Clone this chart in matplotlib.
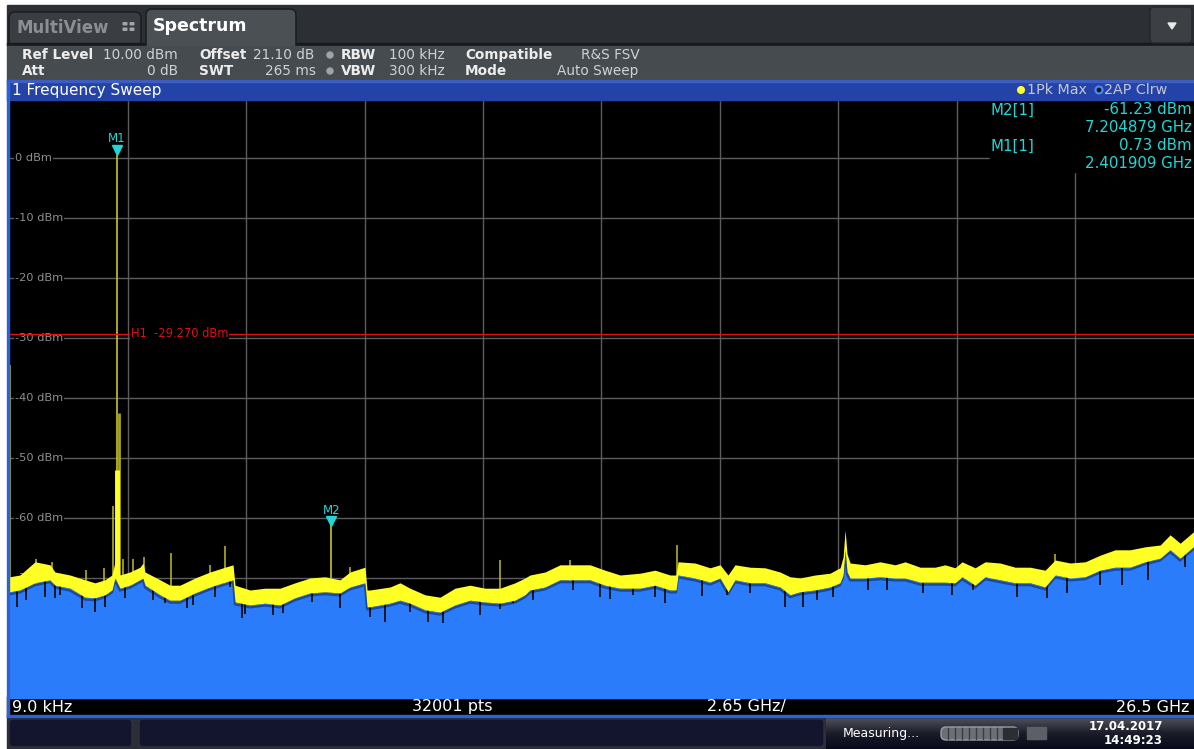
import numpy as np
import matplotlib.pyplot as plt
from matplotlib.patches import Rectangle, FancyBboxPatch, Circle, Polygon
from matplotlib.colors import LinearSegmentedColormap
from matplotlib.transforms import offset_copy

# Sweep settings
f_start = 0.000009   # GHz
f_stop = 26.5        # GHz
ref_level = 10.0     # dBm
bottom_level = -90.0 # dBm
grid_levels = [0, -10, -20, -30, -40, -50, -60, -70, -80]

# Noise band of trace 1 (Pk Max): frequency in GHz, upper / lower edge in dBm
band_freq = [0.000009, 0.235, 0.571, 0.906, 1.018, 1.354, 1.690, 1.914, 2.137, 2.294,
             2.361, 2.473, 2.697, 2.921, 2.988, 3.033, 3.369, 3.592, 3.816, 4.152,
             4.488, 4.824, 5.003, 5.047, 5.383, 5.719, 6.055, 6.391, 6.726, 7.062,
             7.398, 7.621, 7.957, 8.002, 8.069, 8.517, 8.740, 8.964, 9.300, 9.636,
             9.971, 10.307, 10.643, 10.979, 11.314, 11.538, 11.650, 11.986, 12.322, 12.658,
             12.993, 13.329, 13.665, 14.113, 14.448, 14.784, 14.918, 14.963, 15.343, 15.679,
             15.903, 16.082, 16.239, 16.575, 16.910, 17.246, 17.470, 17.694, 18.030, 18.366,
             18.590, 18.658, 18.702, 18.746, 18.814, 19.149, 19.485, 19.821, 20.045, 20.381,
             20.716, 20.940, 21.164, 21.321, 21.612, 21.836, 22.172, 22.508, 22.843, 23.179,
             23.403, 23.739, 24.075, 24.410, 24.746, 25.082, 25.418, 25.754, 25.977, 26.201,
             26.5]
band_top = [-69.8, -69.5, -67.3, -67.8, -69.0, -69.5, -70.3, -70.8, -70.3, -69.5,
            -67.3, -69.5, -69.0, -68.2, -67.5, -69.0, -70.3, -71.2, -71.2, -70.0,
            -69.0, -68.2, -67.8, -71.2, -72.0, -71.7, -71.7, -70.8, -70.0, -69.8,
            -70.3, -69.0, -68.2, -72.0, -72.0, -71.5, -70.8, -71.7, -72.8, -73.2,
            -71.7, -71.2, -71.7, -71.7, -70.8, -70.0, -69.5, -69.0, -67.8, -67.8,
            -67.8, -68.7, -69.5, -69.2, -68.7, -69.5, -69.5, -67.3, -67.5, -68.3,
            -67.8, -69.5, -67.8, -68.2, -68.3, -69.0, -69.8, -70.0, -69.5, -69.2,
            -68.3, -66.5, -62.0, -66.0, -67.5, -67.8, -67.3, -67.8, -67.3, -68.2,
            -68.2, -67.8, -68.3, -67.3, -68.3, -67.3, -67.5, -68.2, -68.2, -68.7,
            -67.0, -67.5, -67.3, -66.2, -65.3, -65.3, -64.8, -64.5, -62.8, -64.2,
            -62.3]
band_bottom = [-72.3, -72.0, -70.8, -70.3, -71.2, -71.7, -73.2, -73.3, -72.8, -72.0,
               -70.0, -71.7, -71.2, -70.3, -70.0, -71.2, -72.8, -73.7, -73.7, -72.5,
               -71.5, -70.7, -70.3, -74.0, -74.5, -74.2, -74.5, -73.3, -72.5, -72.3,
               -72.5, -71.5, -70.8, -74.8, -74.8, -74.2, -73.7, -74.2, -75.3, -75.7,
               -74.5, -73.7, -74.0, -74.2, -73.7, -72.8, -72.0, -71.5, -70.3, -70.3,
               -70.3, -71.2, -71.7, -71.7, -71.2, -72.0, -72.0, -69.5, -70.0, -70.7,
               -70.0, -72.3, -70.3, -70.8, -70.8, -71.5, -72.8, -72.3, -72.0, -71.5,
               -70.8, -69.5, -65.3, -69.0, -70.0, -70.0, -69.8, -70.0, -70.0, -70.7,
               -70.7, -70.7, -70.8, -69.8, -71.2, -69.8, -70.3, -70.8, -70.8, -71.5,
               -69.5, -70.0, -69.8, -68.7, -68.2, -68.2, -67.3, -66.7, -65.3, -66.7,
               -64.8]

# Narrow spurs rising above the noise band (GHz, dBm)
spur_freq = [0.009, 0.593, 0.951, 1.712, 2.115, 2.316, 2.540, 2.764, 3.010, 3.614,
             4.488, 4.824, 7.621, 10.979, 12.546, 14.940, 23.403]
spur_level = [-34.5, -66.8, -67.3, -68.7, -68.3, -58.0, -66.8, -66.8, -66.5, -65.8,
              -67.8, -64.7, -68.2, -67.0, -67.0, -64.5, -66.0]

# Dips of trace 2 (AP Clrw) below the band (GHz, dBm)
dip_freq = [0.168, 0.369, 0.795, 1.018, 1.130, 1.623, 1.914, 2.137, 2.585, 3.212,
            3.481, 3.973, 4.107, 4.600, 4.936, 5.204, 5.271, 5.898, 6.122, 6.771,
            7.398, 8.069, 8.405, 8.964, 9.367, 9.703, 10.531, 10.979, 11.270, 11.717,
            12.613, 13.217, 13.441, 13.956, 14.448, 14.672, 15.500, 16.060, 16.575, 17.358,
            17.761, 18.074, 18.433, 19.216, 19.642, 20.448, 21.097, 21.567, 22.552, 23.224,
            23.672, 24.410, 24.903, 25.485, 26.313]
dip_level = [-74.8, -73.7, -73.2, -73.3, -72.8, -75.0, -75.7, -74.8, -73.3, -73.7,
             -74.2, -75.0, -74.5, -73.2, -71.5, -76.7, -76.0, -76.2, -75.8, -74.0,
             -75.0, -76.5, -77.3, -75.7, -77.3, -77.5, -76.2, -75.2, -74.2, -73.7,
             -72.0, -73.2, -73.5, -72.8, -73.2, -74.2, -73.0, -72.8, -72.5, -74.8,
             -74.8, -73.7, -73.2, -72.0, -72.0, -72.5, -72.8, -72.0, -73.2, -73.3,
             -72.5, -71.2, -71.2, -70.3, -68.2]

# Markers and display line
m1_freq, m1_level = 2.401909, 0.73
m2_freq, m2_level = 7.204879, -61.23
h1_level = -29.270

W, H = 1194, 749
YEL = '#ffff24'
BLUE = '#2b7cfb'
CYAN = '#22d6d6'
RED = '#e01010'

fig = plt.figure(figsize=(W / 100, H / 100), dpi=100, facecolor='white')

# background panels in pixel coordinates
ui = fig.add_axes([0, 0, 1, 1], zorder=0)
ui.set_xlim(0, W)
ui.set_ylim(H, 0)
ui.axis('off')

ui.add_patch(Rectangle((7, 5), W - 7, 40, color='#2c2f33'))
ui.add_patch(FancyBboxPatch((9, 12), 132, 40, boxstyle='round,pad=0,rounding_size=6',
                            fc='#3a3e42', ec='#1c1f22', lw=1.2))
ui.add_patch(Rectangle((7, 43), 140, 3, color='#17191c'))
ui.add_patch(Rectangle((296, 43), W - 296, 3, color='#17191c'))
ui.add_patch(FancyBboxPatch((146, 9), 150, 45, boxstyle='round,pad=0,rounding_size=6',
                            fc='#4b5055', ec='#1c1f22', lw=1.2))
ui.text(17, 28, 'MultiView', color='#8b8f93', fontsize=12, fontweight='bold', va='center')
for sx in (122.5, 129.5):
    for sy in (22, 27.5):
        ui.add_patch(FancyBboxPatch((sx, sy), 5, 3.5, boxstyle='round,pad=0,rounding_size=1',
                                    fc='#a2a6aa', ec='none'))
ui.text(153, 26, 'Spectrum', color='white', fontsize=12.5, fontweight='bold', va='center')
ui.add_patch(FancyBboxPatch((1150, 7), 42, 36, boxstyle='round,pad=0,rounding_size=4',
                            fc='#3c4044', ec='#25282b', lw=1))
ui.add_patch(Polygon([[1168, 23], [1176, 23], [1172, 29]], color='#e8e8e8'))

# info bar
ui.add_patch(Rectangle((7, 46), W - 7, 34, color='#464b4f'))
lab = dict(color='#ececec', fontsize=9.8, fontweight='bold', va='center')
val = dict(color='#cfd2d4', fontsize=9.8, va='center')
ui.text(22, 55, 'Ref Level', **lab)
ui.text(103, 55, '10.00 dBm', **val)
ui.text(22, 71, 'Att', **lab)
ui.text(178, 71, '0 dB', ha='right', **val)
ui.text(199, 55, 'Offset', **lab)
ui.text(253, 55, '21.10 dB', **val)
ui.text(199, 71, 'SWT', **lab)
ui.text(316, 71, '265 ms', ha='right', **val)
for yy in (55, 71):
    ui.add_patch(Circle((330, yy), 3, color='#a0a4a6'))
ui.text(341, 55, 'RBW', **lab)
ui.text(389, 55, '100 kHz', **val)
ui.text(341, 71, 'VBW', **lab)
ui.text(389, 71, '300 kHz', **val)
ui.text(465, 55, 'Compatible', **lab)
ui.text(581, 55, 'R&S FSV', **val)
ui.text(465, 71, 'Mode', **lab)
ui.text(557, 71, 'Auto Sweep', **val)

# bottom strip
ui.add_patch(Rectangle((7, 716), W - 7, 33, color='#2b2e35'))
ui.add_patch(FancyBboxPatch((9, 719), 123, 28, boxstyle='round,pad=0,rounding_size=4',
                            fc='#13152e', ec='#30323c', lw=1))
ui.add_patch(FancyBboxPatch((139, 719), 685, 28, boxstyle='round,pad=0,rounding_size=4',
                            fc='#13152e', ec='#30323c', lw=1))
grad = LinearSegmentedColormap.from_list('status', ['#50535c', '#1c1d2a', '#08091a'])
ui.imshow(np.linspace(0, 1, 40)[:, None], cmap=grad, aspect='auto',
          extent=(826, W, 749, 717), zorder=1)
ui.text(843, 733, 'Measuring...', color='white', fontsize=9, va='center', zorder=3)
ui.add_patch(FancyBboxPatch((941, 727), 77, 13, boxstyle='round,pad=0,rounding_size=5',
                            fc='#6c7076', ec='#9a9ea4', lw=1, zorder=2))
ui.add_patch(Rectangle((1003, 728), 14, 11, color='#2c2e34', zorder=3))
for px in range(948, 1004, 7):
    ui.plot([px, px], [728, 739], color='#3a3c42', lw=1, zorder=3)
ui.add_patch(Rectangle((1027, 727), 19, 12, color='#5c5f66', zorder=2))
ui.text(1163, 727, '17.04.2017', color='white', fontsize=8.5, fontweight='bold',
        ha='right', va='center', zorder=3)
ui.text(1163, 741, '14:49:23', color='white', fontsize=8.5, fontweight='bold',
        ha='right', va='center', zorder=3)

# spectrum diagram
ax = fig.add_axes([9.5 / W, (H - 698) / H, 1184 / W, 600 / H], zorder=1)
ax.set_facecolor('black')
ax.set_xlim(f_start, f_stop)
ax.set_ylim(bottom_level, ref_level)
for s in ax.spines.values():
    s.set_visible(False)
ax.set_xticks([f_stop / 10 * k for k in range(1, 10)])
ax.set_yticks(grid_levels)
ax.tick_params(length=0, labelbottom=False, labelleft=False)
ax.grid(True, color='#5c5c5c', lw=1)
ax.set_axisbelow(True)

ax.vlines(spur_freq, -72, spur_level, color='#c2be22', lw=1.1, zorder=2)
ax.vlines(2.44, -70, -42.5, color='#a8a418', lw=2, zorder=2)
ax.vlines(m1_freq, -70, m1_level, color='#c8c424', lw=1.2, zorder=2)
ax.vlines(m2_freq, -70, m2_level, color='#c8c424', lw=1.2, zorder=2)
ax.fill_between(band_freq, bottom_level, band_bottom, color=BLUE, lw=0, zorder=3)
# dark seam where the AP trace sits just under the peak band
ax.plot(band_freq, np.array(band_bottom) - 0.4, color='#0b1f55', lw=1.6, alpha=0.55,
        zorder=3.5)
# dips reach up to the lower band edge, the yellow band is drawn over them
dip_top = np.interp(dip_freq, band_freq, band_bottom) + 0.5
ax.vlines(dip_freq, dip_level, dip_top, color='#050505', lw=1.2, zorder=4)
ax.fill_between(band_freq, band_bottom, band_top, color=YEL, lw=0, zorder=5)
ax.vlines(2.415, -70, -52, color=YEL, lw=3.5, zorder=5)

# display line H1
ax.axhline(h1_level, color=RED, lw=1, zorder=6)
ax.text((131 - 9.5) / 1184, h1_level, 'H1  %.3f dBm' % h1_level, color=RED, fontsize=8.3,
        va='center', transform=ax.get_yaxis_transform(), zorder=7,
        bbox=dict(fc='black', ec='none', pad=0.6))

# level labels on the grid
for lv in grid_levels[:-1]:
    ax.text((15 - 9.5) / 1184, lv, '%d dBm' % lv, color='#8e8e8e', fontsize=8.2,
            va='center', transform=ax.get_yaxis_transform(), zorder=1.5,
            bbox=dict(fc='black', ec='none', pad=0.8))

# marker symbols
for name, mf, ml in (('M1', m1_freq, m1_level), ('M2', m2_freq, m2_level)):
    tri = offset_copy(ax.transData, fig=fig, x=0, y=4, units='dots')
    ax.plot(mf, ml, marker='v', ms=6.5, color=CYAN, transform=tri, zorder=8)
    lbl = offset_copy(ax.transData, fig=fig, x=0, y=15, units='dots')
    ax.text(mf, ml, name, color=CYAN, fontsize=8.5, ha='center', va='center',
            transform=lbl, zorder=8)

# marker table
ax.add_patch(Rectangle(((990 - 9.5) / 1184, (698 - 172) / 600), 1, 1,
                       transform=ax.transAxes, color='black', zorder=1.8))
def ax_px(x, y):
    return (x - 9.5) / 1184, (698 - y) / 600
tb = dict(color=CYAN, fontsize=10.8, va='center', transform=ax.transAxes, zorder=8)
ax.text(*ax_px(991, 110), 'M2[1]', **tb)
ax.text(*ax_px(1192, 110), '%.2f dBm' % m2_level, ha='right', **tb)
ax.text(*ax_px(1192, 127), '%.6f GHz' % m2_freq, ha='right', **tb)
ax.text(*ax_px(991, 146), 'M1[1]', **tb)
ax.text(*ax_px(1192, 146), '%.2f dBm' % m1_level, ha='right', **tb)
ax.text(*ax_px(1192, 163), '%.6f GHz' % m1_freq, ha='right', **tb)

# overlay: title bar, frame and status line
ov = fig.add_axes([0, 0, 1, 1], zorder=2)
ov.set_xlim(0, W)
ov.set_ylim(H, 0)
ov.axis('off')
ov.patch.set_alpha(0)
ov.add_patch(Rectangle((7, 80), W - 7, 19.5, color='#2343a8'))
ov.add_patch(Rectangle((7, 80), W - 7, 2, color='#3d5cc4'))
ov.text(12, 90, '1 Frequency Sweep', color='white', fontsize=11, va='center')
ov.add_patch(Circle((1021, 90), 3.3, color='#ffff30'))
ov.text(1027, 90, '1Pk Max', color='#c4c8d4', fontsize=10.3, va='center')
ov.add_patch(Circle((1099, 90), 3.5, fc='#141414', ec='#4a8cff', lw=1.5))
ov.text(1104, 90, '2AP Clrw', color='#c4c8d4', fontsize=10.3, va='center')
ov.add_patch(Rectangle((7, 697), W - 7, 20, color='black'))
ov.add_patch(Rectangle((7, 696), W - 7, 1.5, color=BLUE))
ov.add_patch(Rectangle((6.5, 80), 2.5, 637, color='#2c62d8'))
ov.add_patch(Rectangle((7, 715), W - 7, 2, color='#2c62d8'))
st = dict(color='white', fontsize=11.5, va='center')
ov.text(12, 707, '9.0 kHz', **st)
ov.text(452, 707, '32001 pts', ha='center', **st)
ov.text(746, 707, '%.2f GHz/' % (f_stop / 10), ha='center', **st)
ov.text(1190, 707, '%.1f GHz' % f_stop, ha='right', **st)

fig.savefig('out.png', dpi=100, facecolor=fig.get_facecolor())
